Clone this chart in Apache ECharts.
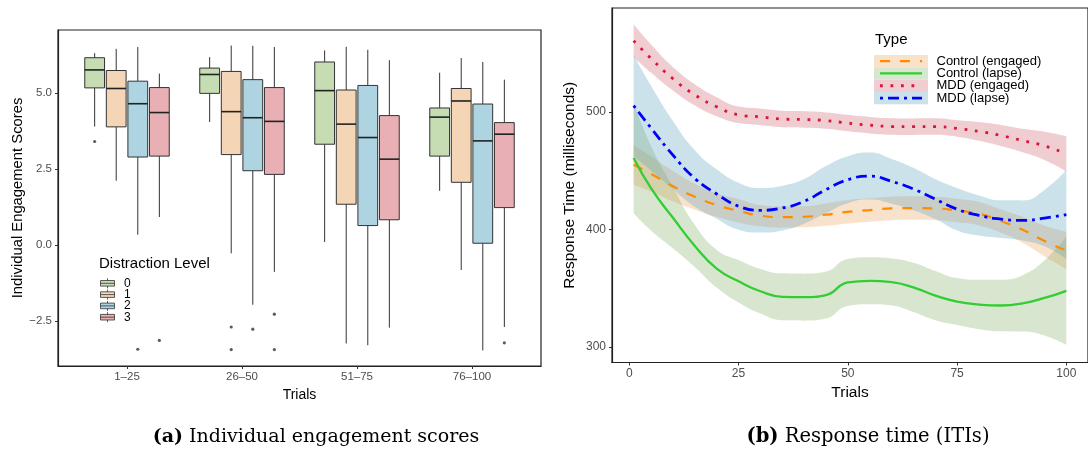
<!DOCTYPE html>
<html><head><meta charset="utf-8">
<script src="https://cdn.jsdelivr.net/npm/echarts@6/dist/echarts.min.js"></script>
<style>html,body{margin:0;padding:0;background:#fff}#c{width:1088px;height:453px}</style>
</head><body><div id="c"></div>
<script>
// ---------- Panel (a): boxplots ----------
const trialGroups = ['1–25', '26–50', '51–75', '76–100'];
const levelNames = ['0', '1', '2', '3'];
// [min, Q1, median, Q3, max] for each trial group
const level0Box = [[3.89, 5.16, 5.75, 6.15, 6.30], [4.04, 4.98, 5.60, 5.81, 6.17], [0.10, 3.31, 5.07, 6.01, 6.39], [1.78, 2.92, 4.20, 4.50, 5.66]];
const level1Box = [[2.11, 3.88, 5.14, 5.73, 6.44], [-0.27, 2.97, 4.38, 5.70, 6.55], [-3.23, 1.34, 3.97, 5.09, 6.51], [-0.82, 2.06, 4.73, 5.14, 6.14]];
const level2Box = [[0.34, 2.89, 4.64, 5.38, 6.50], [-1.96, 2.44, 4.18, 5.43, 6.54], [-3.29, 0.64, 3.53, 5.24, 6.41], [-3.46, 0.06, 3.42, 4.63, 6.01]];
const level3Box = [[0.92, 2.92, 4.35, 5.17, 5.63], [-0.88, 2.32, 4.06, 5.17, 6.50], [-2.71, 0.83, 2.82, 4.25, 6.07], [-2.69, 1.23, 3.64, 4.02, 5.43]];
// outliers: [trial group number (1-4), value]
const level0Outliers = [[1, 3.40]];
const level1Outliers = [[2, -2.69], [2, -3.43]];
const level2Outliers = [[1, -3.42], [2, -2.76]];
const level3Outliers = [[1, -3.13], [2, -2.27], [2, -3.43], [4, -3.21]];
const yTicksA = [-2.5, 0, 2.5, 5];

// ---------- Panel (b): smoothed response times ----------
const trials = [1, 5, 10, 15, 20, 25, 30, 35, 40, 45, 50, 55, 60, 65, 70, 75, 80, 85, 90, 95, 100];
const controlEngaged   = [455.2, 447.3, 436.8, 427.9, 420.8, 415.9, 411.8, 410.6, 410.9, 412.7, 415.1, 416.6, 418.0, 418.3, 418.0, 416.2, 413.5, 407.3, 399.8, 390.3, 382.2];
const controlEngagedCI = [17, 15, 13, 11, 10, 10, 9, 9, 9, 9.5, 10, 10, 10, 10, 10, 10, 10, 10, 11, 13, 16];
const controlLapse     = [460.8, 435.0, 410.0, 386.0, 366.7, 356.0, 347.5, 342.8, 342.5, 344.3, 355.0, 356.4, 355.3, 350.8, 343.8, 338.7, 336.2, 335.4, 337.2, 341.8, 347.9];
const controlLapseCI   = [47, 36, 26, 18, 16, 18, 19, 20, 20, 20, 20, 20, 20, 21, 21, 20, 21, 22, 24, 32, 46];
const mddEngaged       = [560.7, 545.5, 528.3, 514.6, 504.5, 497.6, 495.9, 494.0, 493.6, 492.7, 490.6, 488.8, 487.7, 487.5, 487.6, 486.0, 483.5, 480.0, 475.7, 471.2, 464.4];
const mddEngagedCI     = [14, 12, 10, 9, 8, 7, 7, 7, 7, 7, 7, 7, 7, 7, 7, 7, 8, 9, 10, 12, 15];
const mddLapse         = [505.4, 486.3, 463.3, 443.5, 430.3, 419.9, 416.4, 418.3, 424.0, 434.0, 442.4, 445.5, 441.0, 434.5, 426.0, 417.3, 412.0, 408.9, 407.8, 409.7, 412.8];
const mddLapseCI       = [43, 36, 29, 24, 21, 20, 19, 19, 19, 20, 20, 20, 19, 18, 17, 18, 17, 16, 17, 24, 38];
const typeNames = ['Control (engaged)', 'Control (lapse)', 'MDD (engaged)', 'MDD (lapse)'];
const xTicksB = [0, 25, 50, 75, 100];
const yTicksB = [300, 400, 500];

// ---------- styles ----------
const FONT = 'Liberation Sans';
const boxFills = ['#C6DCB3', '#F4D6B6', '#AED4E2', '#E8B0B4'];
const dodge = [-0.2813, -0.0938, 0.0938, 0.2813];
const boxW = 0.172;
const lineColors = ['#FF8C00', '#32CD32', '#DC143C', '#0000FF'];
const bandFills = ['rgba(235,158,85,0.3)', 'rgba(128,172,95,0.3)', 'rgba(205,88,102,0.3)', 'rgba(85,158,188,0.3)'];
const keyFills = ['#F9E2CC', '#D9E6CF', '#F0CDD1', '#CCE2EB'];
const dashes = [[10, 10], null, [2.8, 7.7], [3, 5, 11, 5]];
const widths = [2.2, 2.3, 2.8, 2.8];

const boxes = [level0Box, level1Box, level2Box, level3Box];
const outliers = [level0Outliers, level1Outliers, level2Outliers, level3Outliers];

function boxRender(k) {
  return function (params, api) {
    const x = api.value(0) + dodge[k];
    const pMin = api.coord([x, api.value(1)]);
    const pQ1 = api.coord([x, api.value(2)]);
    const pMed = api.coord([x, api.value(3)]);
    const pQ3 = api.coord([x, api.value(4)]);
    const pMax = api.coord([x, api.value(5)]);
    const w = api.size([boxW, 0])[0];
    const cx = pMed[0];
    const st = { stroke: '#333', lineWidth: 1 };
    return {
      type: 'group',
      children: [
        { type: 'line', shape: { x1: cx, y1: pMin[1], x2: cx, y2: pQ1[1] }, style: st },
        { type: 'line', shape: { x1: cx, y1: pQ3[1], x2: cx, y2: pMax[1] }, style: st },
        { type: 'rect', shape: { x: cx - w / 2, y: pQ3[1], width: w, height: pQ1[1] - pQ3[1] }, style: { fill: boxFills[k], stroke: '#333', lineWidth: 1 } },
        { type: 'line', shape: { x1: cx - w / 2, y1: pMed[1], x2: cx + w / 2, y2: pMed[1] }, style: { stroke: '#222', lineWidth: 1.6 } }
      ]
    };
  };
}

const series = [];
boxes.forEach((b, k) => {
  series.push({
    type: 'custom', name: 'Distraction ' + levelNames[k], xAxisIndex: 0, yAxisIndex: 0,
    renderItem: boxRender(k),
    encode: { x: 0, y: [1, 2, 3, 4, 5] },
    data: b.map((v, i) => [i + 1].concat(v)),
    z: 2
  });
  series.push({
    type: 'scatter', xAxisIndex: 0, yAxisIndex: 0, symbolSize: 3.2,
    itemStyle: { color: '#333' },
    data: outliers[k].map(o => [o[0] + dodge[k], o[1]]),
    z: 3
  });
});

const means = [controlEngaged, controlLapse, mddEngaged, mddLapse];
const cis = [controlEngagedCI, controlLapseCI, mddEngagedCI, mddLapseCI];
means.forEach((m, k) => {
  const ci = cis[k];
  // value first, trial second, so the stack is applied to the y dimension
  series.push({
    type: 'line', name: typeNames[k] + ' lower', xAxisIndex: 1, yAxisIndex: 1, stack: 'band' + k,
    encode: { x: 1, y: 0 },
    data: trials.map((t, i) => [m[i] - ci[i], t]), symbol: 'none', smooth: true,
    lineStyle: { opacity: 0 }, silent: true, z: 2
  });
  series.push({
    type: 'line', name: typeNames[k] + ' band', xAxisIndex: 1, yAxisIndex: 1, stack: 'band' + k,
    encode: { x: 1, y: 0 },
    data: trials.map((t, i) => [2 * ci[i], t]), symbol: 'none', smooth: true,
    lineStyle: { opacity: 0 }, areaStyle: { color: bandFills[k], opacity: 1 }, silent: true, z: 2
  });
  series.push({
    type: 'line', name: typeNames[k], xAxisIndex: 1, yAxisIndex: 1,
    data: trials.map((t, i) => [t, m[i]]), symbol: 'none', smooth: true,
    lineStyle: { color: lineColors[k], width: widths[k], type: dashes[k] || 'solid', cap: 'butt' }, z: 2
  });
});

// ---------- legends & captions (graphic) ----------
const g = [];
g.push({ type: 'text', x: 99, y: 263.5, style: { text: 'Distraction Level', fontFamily: FONT, fontSize: 15, fill: '#000', verticalAlign: 'middle' } });
levelNames.forEach((n, i) => {
  const cy = 283.3 + 11.3 * i;
  g.push({ type: 'line', shape: { x1: 107.5, y1: cy - 5, x2: 107.5, y2: cy + 5 }, style: { stroke: '#333', lineWidth: 0.8 } });
  g.push({ type: 'rect', shape: { x: 100.5, y: cy - 2.8, width: 14, height: 5.6 }, style: { fill: boxFills[i], stroke: '#333', lineWidth: 0.8 } });
  g.push({ type: 'line', shape: { x1: 100.5, y1: cy, x2: 114.5, y2: cy }, style: { stroke: '#333', lineWidth: 0.8 } });
  g.push({ type: 'text', x: 124, y: cy, style: { text: n, fontFamily: FONT, fontSize: 12, fill: '#000', verticalAlign: 'middle' } });
});
g.push({ type: 'text', x: 875, y: 40, style: { text: 'Type', fontFamily: FONT, fontSize: 15, fill: '#000', verticalAlign: 'middle' } });
typeNames.forEach((n, i) => {
  const top = 55 + 12.3 * i, cy = top + 6.15;
  g.push({ type: 'rect', shape: { x: 874, y: top, width: 54, height: 12.3 }, style: { fill: keyFills[i] } });
  g.push({ type: 'line', shape: { x1: 880, y1: cy, x2: 922, y2: cy }, style: { stroke: lineColors[i], lineWidth: widths[i], lineDash: dashes[i] || null, lineCap: 'butt' } });
  g.push({ type: 'text', x: 936.5, y: cy, style: { text: n, fontFamily: FONT, fontSize: 13, fill: '#000', verticalAlign: 'middle' } });
});
g.push({ type: 'text', x: 316, y: 437, style: { text: '{b|(a)} Individual engagement scores', fontFamily: 'DejaVu Serif', fontSize: 19, fill: '#000', align: 'center', verticalAlign: 'middle', rich: { b: { fontFamily: 'DejaVu Serif', fontSize: 19, fontWeight: 'bold', fill: '#000' } } } });
g.push({ type: 'text', x: 868, y: 437, style: { text: '{b|(b)} Response time (ITIs)', fontFamily: 'DejaVu Serif', fontSize: 19.5, fill: '#000', align: 'center', verticalAlign: 'middle', rich: { b: { fontFamily: 'DejaVu Serif', fontSize: 19.5, fontWeight: 'bold', fill: '#000' } } } });

const tickLbl = { color: '#4D4D4D', fontFamily: FONT };
const axLine = { show: true, onZero: false, lineStyle: { color: '#222', width: 1.2 } };
const tick = vals => ({ show: true, length: 3, customValues: vals, lineStyle: { color: '#333', width: 1 } });
const option = {
  animation: false,
  backgroundColor: '#fff',
  textStyle: { fontFamily: FONT },
  grid: [
    { left: 58, top: 30, width: 483, height: 336, show: true, borderColor: '#222', borderWidth: 1.2, backgroundColor: 'transparent' },
    { left: 612, top: 8, width: 481.5, height: 354.5, show: true, borderColor: '#222', borderWidth: 1.2, backgroundColor: 'transparent' }
  ],
  xAxis: [
    {
      type: 'value', gridIndex: 0, min: 0.4, max: 4.6,
      axisLine: axLine, splitLine: { show: false },
      axisTick: tick([1, 2, 3, 4]),
      axisLabel: Object.assign({ customValues: [1, 2, 3, 4], formatter: v => trialGroups[Math.round(v) - 1], fontSize: 11.5, margin: 5 }, tickLbl),
      name: 'Trials', nameLocation: 'middle', nameGap: 20, nameTextStyle: { color: '#000', fontSize: 14, fontFamily: FONT }
    },
    {
      type: 'value', gridIndex: 1, min: -3.95, max: 104.95,
      axisLine: axLine, splitLine: { show: false },
      axisTick: tick(xTicksB),
      axisLabel: Object.assign({ customValues: xTicksB, fontSize: 12, margin: 5 }, tickLbl),
      name: 'Trials', nameLocation: 'middle', nameGap: 22, nameTextStyle: { color: '#000', fontSize: 15.5, fontFamily: FONT }
    }
  ],
  yAxis: [
    {
      type: 'value', gridIndex: 0, min: -3.97, max: 7.06,
      axisLine: axLine, splitLine: { show: false },
      axisTick: tick(yTicksA),
      axisLabel: Object.assign({ customValues: yTicksA, fontSize: 11.5, margin: 6, formatter: v => (v < 0 ? '\u2212' + Math.abs(v).toFixed(1) : v.toFixed(1)) }, tickLbl),
      name: 'Individual Engagement Scores', nameLocation: 'middle', nameGap: 33, nameTextStyle: { color: '#000', fontSize: 14.8, fontFamily: FONT }
    },
    {
      type: 'value', gridIndex: 1, min: 286.9, max: 588.5,
      axisLine: axLine, splitLine: { show: false },
      axisTick: tick(yTicksB),
      axisLabel: Object.assign({ customValues: yTicksB, fontSize: 12, margin: 6 }, tickLbl),
      name: 'Response Time (milliseconds)', nameLocation: 'middle', nameGap: 34, nameTextStyle: { color: '#000', fontSize: 15.5, fontFamily: FONT }
    }
  ],
  graphic: { elements: g },
  series: series
};
const chart = echarts.init(document.getElementById('c'), null, { renderer: 'canvas' });
chart.setOption(option);
</script>
</body></html>
